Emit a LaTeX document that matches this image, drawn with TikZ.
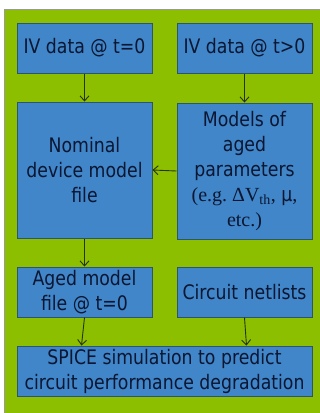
\documentclass[tikz,border=0pt]{standalone}
\usepackage{fontspec}
\setmainfont[FakeStretch=0.865]{DejaVu Sans}
\newfontfamily\serifpart{Liberation Serif}
\usetikzlibrary{arrows.meta}
\definecolor{bggreen}{HTML}{8CBF00}
\definecolor{boxblue}{HTML}{4086C8}
\definecolor{boxedge}{HTML}{2E5570}
\definecolor{txt}{HTML}{0B1632}
\definecolor{arr}{HTML}{26330E}
\tikzset{
  x=1pt, y=-1pt,
  box/.style={draw=boxedge, line width=1pt, fill=boxblue, text=txt, align=center,
    inner sep=0pt, font=\fontsize{20}{25}\selectfont},
  smallbox/.style={box, minimum width=135pt, minimum height=50pt},
  tallbox/.style={box, minimum width=135pt, minimum height=136pt},
  widebox/.style={box, minimum width=295pt, minimum height=50pt},
  conn/.style={draw=arr, line width=0.9pt, -{Straight Barb[length=5pt,width=9pt]}}
}
\begin{document}
\begin{tikzpicture}
\useasboundingbox (0,0) rectangle (320,413);
\fill[white] (0,0) rectangle (320,413);
\filldraw[fill=bggreen, draw=gray!80, line width=1pt] (4.5,9.5) rectangle (330,425);
\node[smallbox] (b1) at (84.5,48) {IV data @ t=0};
\node[smallbox] (b2) at (244.5,48) {IV data @ t>0};
\node[tallbox] (b3) at (84.5,170) {Nominal\\device model\\file};
\node[tallbox] (b4) at (244.5,171) {Models of\\aged\\parameters\\{\serifpart (e.g.\ ΔV\textsubscript{th},} μ{\serifpart ,}\\{\serifpart etc.)}};
\node[smallbox] (b5) at (84.5,292) {Aged model\\file @ t=0};
\node[smallbox] (b6) at (244.5,292) {Circuit netlists};
\node[widebox] (b7) at (164.5,371) {SPICE simulation to predict\\circuit performance degradation};
\draw[conn] (b1.south) -- (b3.north);
\draw[conn] (b2.south) -- (b4.north);
\draw[conn] (b4.west) -- (b3.east);
\draw[conn] (b3.south) -- (b5.north);
\draw[conn] (b5.south) -- ([xshift=-3pt]b5.south |- b7.north);
\draw[conn] (b6.south) -- ([xshift=2pt]b6.south |- b7.north);
\end{tikzpicture}
\end{document}
